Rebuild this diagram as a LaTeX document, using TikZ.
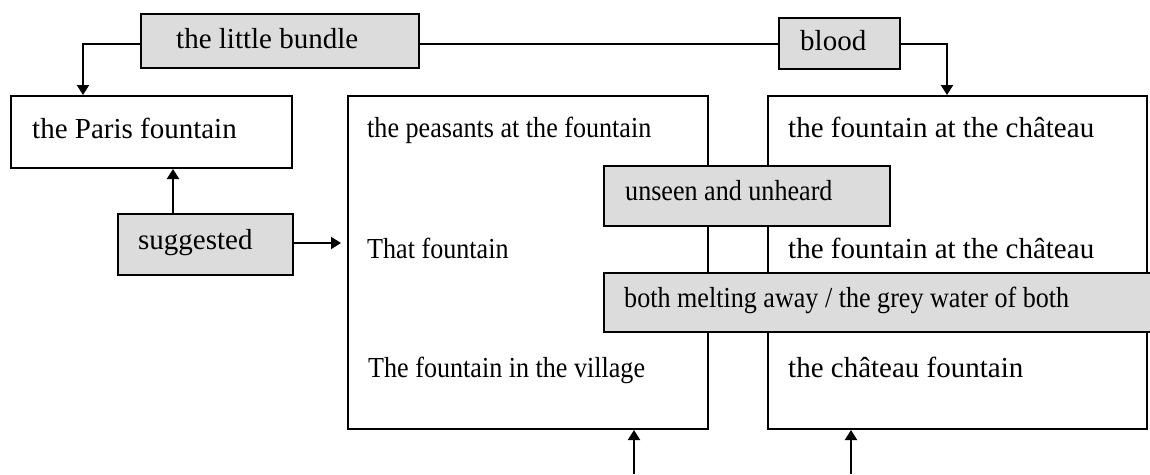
\documentclass[tikz,border=0pt]{standalone}
\usepackage{fontspec}
\setmainfont{Liberation Serif}
\usetikzlibrary{arrows.meta}
\definecolor{boxgrey}{RGB}{220,220,220}
\newcommand{\cnd}[1]{\scalebox{0.9}[1]{#1}}
\begin{document}
\begin{tikzpicture}[x=1pt,y=-1pt,
  boxline/.style={draw=black, line width=2pt},
  greybox/.style={boxline, fill=boxgrey, inner sep=0pt, anchor=north west},
  whitebox/.style={boxline, fill=white, inner sep=0pt, anchor=north west},
  txt/.style={inner sep=0pt, anchor=base west, font=\fontsize{29}{34}\selectfont},
  conn/.style={line width=2pt},
  arr/.style={conn, -{Triangle[length=10pt,width=12pt]}}]
\useasboundingbox (0,0) rectangle (1150,474);
\fill[white] (0,0) rectangle (1150,474);
% boxes
\node[whitebox, minimum width=281pt, minimum height=72pt] (paris) at (10,95) {};
\node[whitebox, minimum width=360pt, minimum height=333pt] (mid) at (347,95) {};
\node[whitebox, minimum width=379pt, minimum height=333pt] (right) at (767,95) {};
\node[greybox, minimum width=278pt, minimum height=54pt] (bundle) at (140,13) {};
\node[greybox, minimum width=121pt, minimum height=51pt] (blood) at (778,17) {};
\node[greybox, minimum width=175pt, minimum height=61pt] (sugg) at (117,213) {};
\node[greybox, minimum width=286pt, minimum height=60pt] (unseen) at (603,165) {};
\node[greybox, minimum width=550pt, minimum height=59pt] (both) at (603,272) {};
% texts
\node[txt] (tbundle) at (176,48) {the little bundle};
\node[txt] (tparis) at (32,138) {the Paris fountain};
\node[txt] (tsugg) at (138,249) {suggested};
\node[txt] (tblood) at (800,50) {blood};
\node[txt] (tpeas) at (367,137) {\cnd{the peasants at the fountain}};
\node[txt] (tchat1) at (788,137) {the fountain at the château};
\node[txt] (tunseen) at (625,200) {\cnd{unseen and unheard}};
\node[txt] (tthat) at (367,258) {\cnd{That fountain}};
\node[txt] (tchat2) at (788,258) {the fountain at the château};
\node[txt] (tboth) at (624,307) {\cnd{both melting away / the grey water of both}};
\node[txt] (tvill) at (368,377) {\cnd{The fountain in the village}};
\node[txt] (tchat3) at (788,377) {the château fountain};
% connectors
\draw[conn] (bundle.east |- blood.west) -- (blood.west);
\draw[arr] (bundle.west |- blood.west) -| ([xshift=73pt]paris.north west);
\draw[arr] (blood.east) -| ([xshift=180pt]right.north west);
\draw[arr] ([xshift=56pt]sugg.north west) -- ([xshift=56pt]sugg.north west |- paris.south);
\draw[arr, shorten >=6pt] ([yshift=1.5pt]sugg.east) -- ([yshift=1.5pt]sugg.east -| mid.west);
\coordinate (b1) at (634,474);
\coordinate (b2) at (851,474);
\draw[arr] (b1) -- (b1 |- mid.south);
\draw[arr] (b2) -- (b2 |- right.south);
\end{tikzpicture}
\end{document}
